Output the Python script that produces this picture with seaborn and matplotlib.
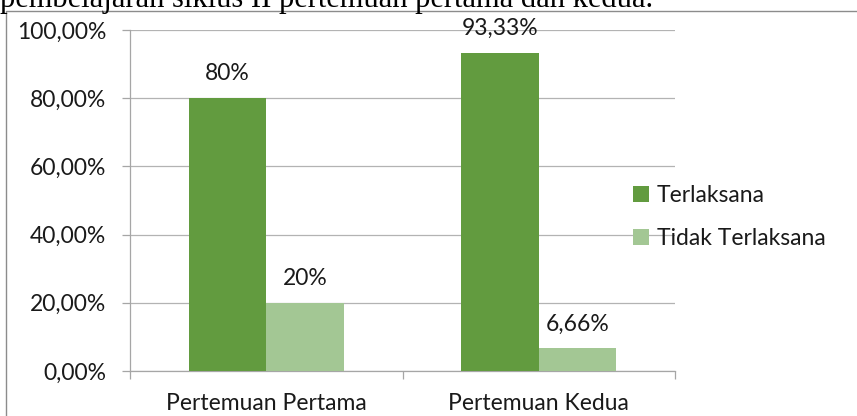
import numpy as np
import pandas as pd
import matplotlib
matplotlib.use("Agg")
import matplotlib.pyplot as plt
import seaborn as sns
from matplotlib.patches import Rectangle
from matplotlib.ticker import FuncFormatter, FixedLocator

# data
categories = ["Pertemuan Pertama", "Pertemuan Kedua"]
series = ["Terlaksana", "Tidak Terlaksana"]
terlaksana = [80.0, 93.33]
tidak_terlaksana = [20.0, 6.66]
label_terlaksana = ["80%", "93,33%"]
label_tidak = ["20%", "6,66%"]
yticks = [0, 20, 40, 60, 80, 100]

df = pd.DataFrame({
    "pertemuan": categories * 2,
    "status": [series[0]] * 2 + [series[1]] * 2,
    "nilai": terlaksana + tidak_terlaksana,
    "label": label_terlaksana + label_tidak,
})

sns.set_style("white")
plt.rcParams["font.family"] = ["Lato", "DejaVu Sans"]

W, H = 857, 416
fig = plt.figure(figsize=(W / 100, H / 100), dpi=100)
ax = fig.add_axes([130 / W, 1 - 371 / H, (675 - 130) / W, (371 - 30) / H])

colors = {"Terlaksana": "#629B3F", "Tidak Terlaksana": "#A3C794"}
sns.barplot(data=df, x="pertemuan", y="nilai", hue="status", palette=colors,
            order=categories, hue_order=series, width=0.57, saturation=1,
            ax=ax, zorder=3, edgecolor="none")

# value labels
for cont, labels in zip(ax.containers, [label_terlaksana, label_tidak]):
    for bar, lab in zip(cont, labels):
        ax.annotate(lab, (bar.get_x() + bar.get_width() / 2, bar.get_height()),
                    xytext=(0, 10), textcoords="offset points",
                    ha="center", va="bottom", fontsize=16.5, color="#1a1a1a")

ax.set_xlim(-0.5, 1.5)
ax.set_ylim(0, 100)
ax.set_yticks(yticks)
ax.yaxis.set_major_formatter(FuncFormatter(lambda v, p: f"{v:.2f}%".replace(".", ",")))
ax.grid(axis="y", color="#B3B3B3", linewidth=0.9, zorder=0)
ax.set_axisbelow(True)
ax.set_xlabel("")
ax.set_ylabel("")

for s in ["top", "right"]:
    ax.spines[s].set_visible(False)
for s in ["left", "bottom"]:
    ax.spines[s].set_color("#A6A6A6")
    ax.spines[s].set_linewidth(0.9)

ax.tick_params(axis="y", length=6, width=0.9, color="#A6A6A6", pad=11,
               labelsize=16.5, labelcolor="#1a1a1a", left=True)
ax.tick_params(axis="x", which="major", length=0, pad=16, labelsize=16.5,
               labelcolor="#1a1a1a")
ax.xaxis.set_minor_locator(FixedLocator([-0.5, 0.5, 1.5]))
ax.tick_params(axis="x", which="minor", length=6, width=0.9, color="#A6A6A6",
               bottom=True)

# legend
handles, labels = ax.get_legend_handles_labels()
ax.legend(handles, labels, loc="center left", frameon=False,
          bbox_to_anchor=(633 / W, 1 - 217 / H), bbox_transform=fig.transFigure,
          borderpad=0, borderaxespad=0, handlelength=0.7, handleheight=0.7,
          handletextpad=0.35, labelspacing=1.0, fontsize=16.5,
          labelcolor="#1a1a1a")

# chart border and clipped caption above
fig.patches.append(Rectangle((6 / W, -0.1), 1.2, (H - 11) / H + 0.1,
                             transform=fig.transFigure, fill=False,
                             edgecolor="#8C8C8C", linewidth=1.0))
fig.text(0.0, 1 - 7 / H, "pembelajaran siklus II pertemuan pertama dan kedua.",
         ha="left", va="baseline", fontsize=22, family="Liberation Serif",
         color="black")

fig.savefig("out.png", dpi=100)
